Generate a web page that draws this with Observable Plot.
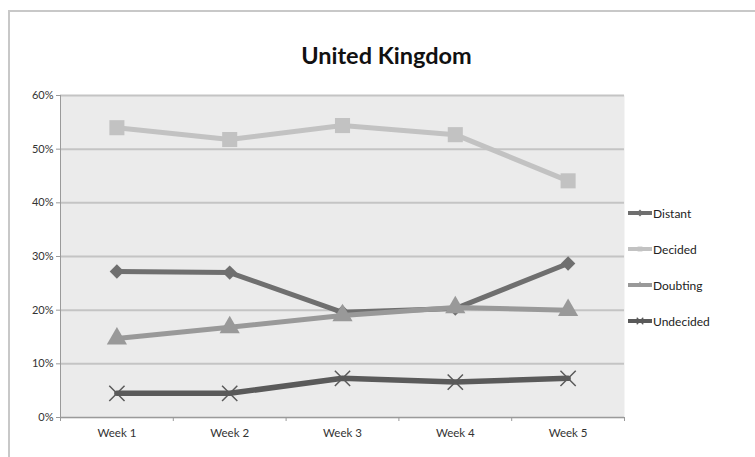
<!DOCTYPE html>
<html><head><meta charset="utf-8">
<script src="https://cdn.jsdelivr.net/npm/d3@7"></script>
<script src="https://cdn.jsdelivr.net/npm/@observablehq/plot@0.6"></script>
<style>
body{margin:0;background:#fff;font-family:Lato,"Open Sans",sans-serif;}
#wrap{position:relative;width:755px;height:457px;overflow:hidden;}
#frame{position:absolute;left:8px;top:10px;width:800px;height:500px;border-left:2px solid #c8c8c8;border-top:2px solid #c8c8c8;}
#title{position:absolute;left:0;width:755px;top:41px;text-align:center;font-size:23.5px;font-weight:bold;color:#111;padding-left:18px;box-sizing:border-box;}
#chart{position:absolute;left:0;top:0;}
#legend{position:absolute;left:628px;top:195px;font-size:12px;color:#222;}
.li{display:flex;align-items:center;height:36px;}
.li svg{margin-right:1px;}
</style></head><body>
<div id="wrap"><div id="frame"></div><div id="chart"></div><div id="title">United Kingdom</div><div id="legend"></div></div>
<script>
const weeks = ["Week 1","Week 2","Week 3","Week 4","Week 5"];
const seriesNames = ["Distant","Decided","Doubting","Undecided"];
const distant = [0.272,0.270,0.196,0.203,0.287];
const decided = [0.540,0.518,0.544,0.527,0.441];
const doubting = [0.147,0.168,0.190,0.205,0.200];
const undecided = [0.045,0.045,0.073,0.066,0.073];
const yTicks = [0,0.1,0.2,0.3,0.4,0.5,0.6];
const colors = ["#6f6f6f","#c2c2c2","#999999","#5a5a5a"];
const symbols = ["diamond2","square","triangle","times"];
const symR = [6.5,8.5,7.5,7];

const valuesBySeries = [distant,decided,doubting,undecided];
const data = [];
seriesNames.forEach((s,i)=>valuesBySeries[i].forEach((v,j)=>data.push({series:s,idx:j+1,week:weeks[j],value:v})));
const boundaries = d3.range(0.5, weeks.length+1, 1);

const marks = [
  Plot.frame({fill:"#ebebeb"}),
  Plot.gridY(yTicks,{stroke:"#c4c4c4",strokeOpacity:1,strokeWidth:2}),
  Plot.ruleX([0.5],{stroke:"#9a9a9a",strokeWidth:1}),
  Plot.ruleY([0],{stroke:"#9a9a9a",strokeWidth:1}),
  Plot.axisY(yTicks,{tickFormat:d3.format(".0%"),tickSize:4,stroke:"#9a9a9a",fontSize:11,tickPadding:3,color:"#333",label:null}),
  Plot.axisX(boundaries,{tickFormat:()=>"",tickSize:4,stroke:"#9a9a9a",label:null}),
  Plot.axisX(d3.range(1,weeks.length+1),{tickFormat:i=>weeks[i-1],tickSize:0,tickPadding:11,fontSize:11.5,color:"#333",label:null})
];
seriesNames.forEach((s,i)=>{
  const d = data.filter(r=>r.series===s);
  marks.push(Plot.line(d,{x:"idx",y:"value",stroke:colors[i],strokeWidth:i===3?5.5:5}));
  marks.push(Plot.dot(d,{x:"idx",y:"value",symbol:symbols[i],r:symR[i],
    fill: symbols[i]==="times"?"none":colors[i], stroke: colors[i], strokeWidth: symbols[i]==="times"?1.5:0}));
});

const plot = Plot.plot({
  width:755,height:457,
  marginLeft:60,marginRight:131,marginTop:95,marginBottom:40,
  style:{fontFamily:"Lato, 'Open Sans', sans-serif",background:"transparent"},
  x:{type:"linear",domain:[0.5,weeks.length+0.5]},
  y:{domain:[0,0.6]},
  marks
});
document.getElementById("chart").appendChild(plot);

// legend
const leg = document.getElementById("legend");
const legSym = [d3.symbolDiamond2,d3.symbolSquare2,d3.symbolTriangle2,d3.symbolTimes];
seriesNames.forEach((s,i)=>{
  const row = document.createElement("div"); row.className="li";
  const sw = d3.create("svg").attr("width",24).attr("height",12);
  sw.append("line").attr("x1",0).attr("x2",24).attr("y1",6).attr("y2",6).attr("stroke",colors[i]).attr("stroke-width",4);
  sw.append("path").attr("transform","translate(12,6)").attr("d",d3.symbol(legSym[i],30)())
    .attr("fill",i===3?"none":colors[i]).attr("stroke",colors[i]).attr("stroke-width",i===3?1.2:0);
  row.appendChild(sw.node());
  const t=document.createElement("span"); t.textContent=s; row.appendChild(t);
  leg.appendChild(row);
});
</script></body></html>
